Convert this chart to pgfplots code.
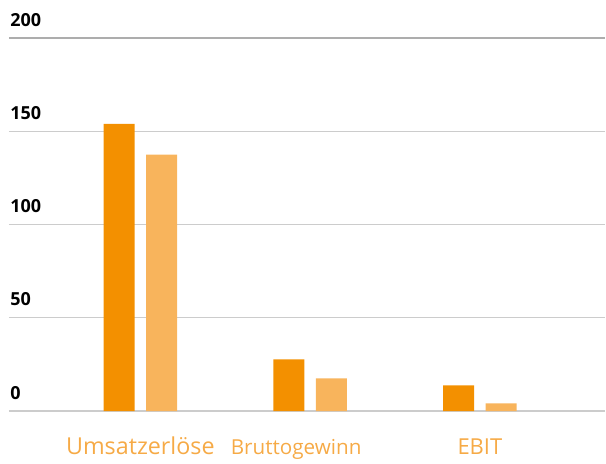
\documentclass[border=0pt]{standalone}
\usepackage{pgfplots}
\pgfplotsset{compat=1.18}
\usepackage{fontspec}
\setmainfont{Open Sans}
\usetikzlibrary{calc}
\definecolor{dark}{RGB}{243,144,0}
\definecolor{light}{RGB}{248,180,92}
\definecolor{lbl}{RGB}{246,170,70}
\definecolor{grid}{RGB}{204,204,204}
\begin{document}
\begin{tikzpicture}
  \begin{axis}[name=ax,scale only axis,width=447.75pt,height=280pt,
    ymin=0,ymax=200,xmin=-0.774,xmax=2.738,
    ytick={0,50,100,150},extra y ticks={200},
    extra y tick style={major grid style={color=black!32,line width=1.3pt}},
    ymajorgrids,major grid style={color=grid,line width=1pt},
    axis line style={draw=none},major tick length=0pt,
    /pgf/number format/assume math mode=true,
    yticklabel style={anchor=base west,inner sep=0pt,xshift=0.75pt,yshift=9pt,font=\fontsize{13.5}{14}\selectfont\bfseries,text=black},
    xtick={0,1,2},
    xticklabels={{\fontsize{17.5}{20}\selectfont Umsatzerlöse},{\hspace*{-21pt}\fontsize{15.5}{18}\selectfont Bruttogewinn},{\fontsize{16.5}{18}\selectfont EBIT}},
    xticklabel style={anchor=base,yshift=-32.5pt,text=lbl},
    ybar,bar width=23.25pt]
  \addplot[fill=dark,draw=none,bar shift=-16pt] coordinates {(0,154.1) (1,27.7) (2,13.8)};
  \addplot[fill=light,draw=none,bar shift=16pt] coordinates {(0,137.5) (1,17.5) (2,4.1)};
  \end{axis}
  \path[use as bounding box] ($(ax.south west)+(-6.75pt,-35.5pt)$) rectangle ($(ax.north east)+(0pt,28.7pt)$);
\end{tikzpicture}
\end{document}
